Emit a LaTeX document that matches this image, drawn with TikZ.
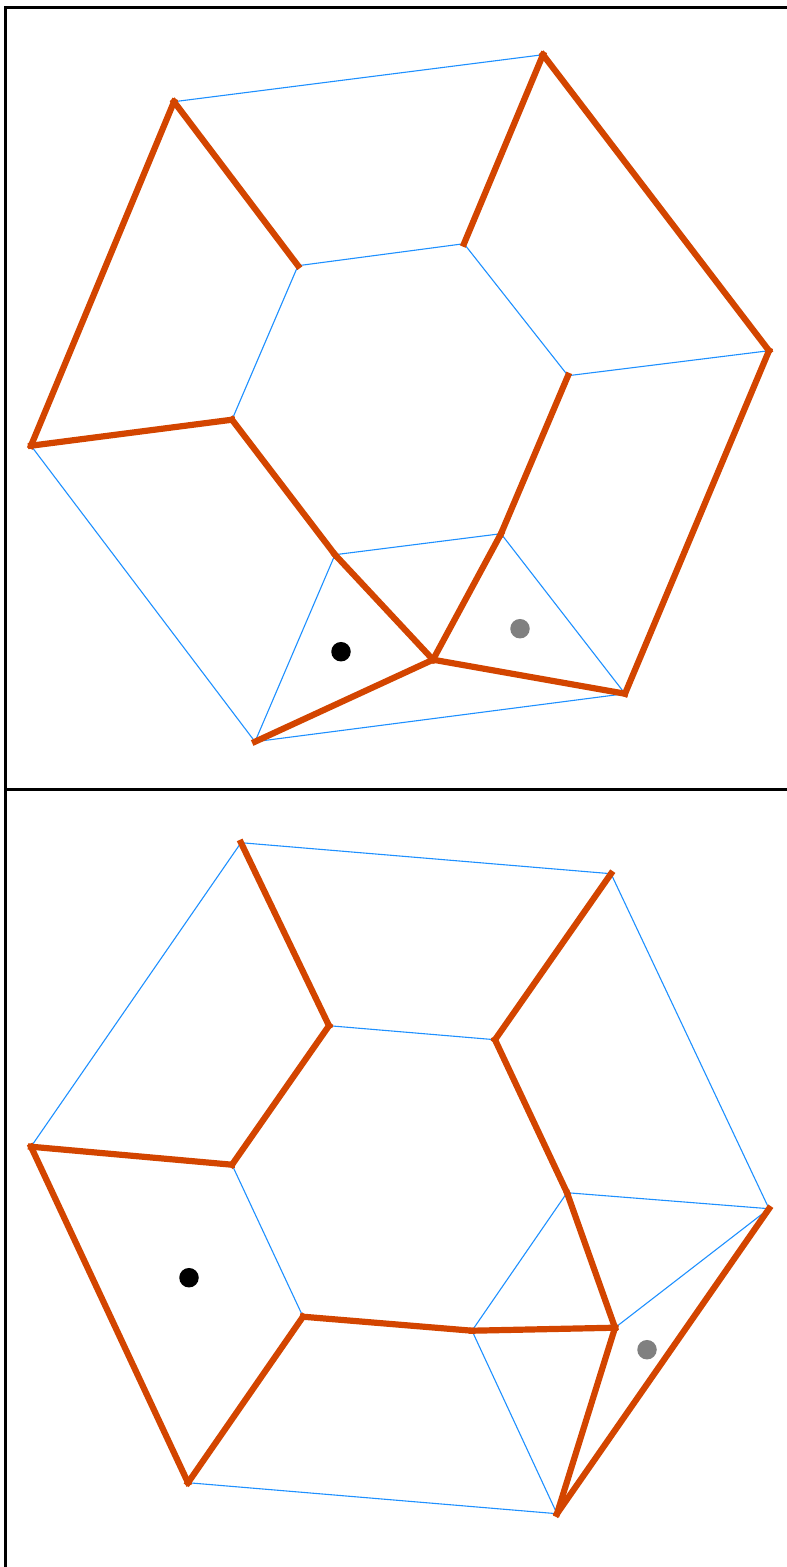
\documentclass[tikz,border=0pt]{standalone}

\tikzset{
  thinedge/.style={draw={rgb,255:red,30;green,144;blue,255},line width=1.1pt},
  thickedge/.style={draw={rgb,255:red,211;green,69;blue,0},line width=6.2pt,line cap=rect},
  framerule/.style={draw=black,line width=3pt},
  marker/.style={circle,inner sep=0pt,minimum size=19.5pt},
}

\begin{document}
\begin{tikzpicture}[x=1pt,y=-1pt]
  \useasboundingbox (0,0) rectangle (787,1567);
  \draw[framerule] (5,1567) -- (5,7) -- (787,7);
  \draw[framerule] (5,789) -- (787,789);

  \begin{scope}[yshift=-0.7pt]
  % upper panel
  \coordinate (ua) at (174,101);
  \coordinate (ub) at (543,54);
  \coordinate (uc) at (769,350);
  \coordinate (ud) at (625,693);
  \coordinate (ue) at (255,741);
  \coordinate (uf) at (31,445);
  \coordinate (ia) at (298,265);
  \coordinate (ib) at (464,243);
  \coordinate (ic) at (568,375);
  \coordinate (id) at (501,533);
  \coordinate (ie) at (335,554);
  \coordinate (if) at (232,419);
  \coordinate (um) at (433,659);
  \draw[thinedge] (ua) -- (ub);
  \draw[thinedge] (ia) -- (ib);
  \draw[thinedge] (ia) -- (if);
  \draw[thinedge] (ib) -- (ic);
  \draw[thinedge] (ic) -- (uc);
  \draw[thinedge] (id) -- (ud);
  \draw[thinedge] (id) -- (ie);
  \draw[thinedge] (ie) -- (ue);
  \draw[thinedge] (uf) -- (ue);
  \draw[thinedge] (ue) -- (ud);
  \draw[thickedge] (uf) -- (ua);
  \draw[thickedge] (ua) -- (ia);
  \draw[thickedge] (ub) -- (ib);
  \draw[thickedge] (ub) -- (uc);
  \draw[thickedge] (uc) -- (ud);
  \draw[thickedge] (ic) -- (id);
  \draw[thickedge] (uf) -- (if);
  \draw[thickedge] (if) -- (ie);
  \draw[thickedge] (ie) -- (um);
  \draw[thickedge] (id) -- (um);
  \draw[thickedge] (um) -- (ud);
  \draw[thickedge] (um) -- (ue);
  \node[marker,fill=black] (ublack) at (341,651) {};
  \node[marker,fill=gray] (ugray) at (520,628) {};

  % lower panel
  \coordinate (la) at (241,842);
  \coordinate (lb) at (611,873);
  \coordinate (lc) at (769,1208);
  \coordinate (ld) at (557,1513);
  \coordinate (le) at (188,1482);
  \coordinate (lf) at (31,1146);
  \coordinate (ja) at (329,1025);
  \coordinate (jb) at (495,1039);
  \coordinate (jc) at (567,1192);
  \coordinate (jd) at (615,1327);
  \coordinate (je) at (472,1330);
  \coordinate (jf) at (303,1316);
  \coordinate (jg) at (232,1164);
  \draw[thinedge] (la) -- (lb);
  \draw[thinedge] (la) -- (lf);
  \draw[thinedge] (lb) -- (lc);
  \draw[thinedge] (ja) -- (jb);
  \draw[thinedge] (jg) -- (jf);
  \draw[thinedge] (jc) -- (lc);
  \draw[thinedge] (jc) -- (je);
  \draw[thinedge] (jd) -- (lc);
  \draw[thinedge] (je) -- (ld);
  \draw[thinedge] (le) -- (ld);
  \draw[thickedge] (la) -- (ja);
  \draw[thickedge] (ja) -- (jg);
  \draw[thickedge] (jg) -- (lf);
  \draw[thickedge] (lf) -- (le);
  \draw[thickedge] (le) -- (jf);
  \draw[thickedge] (jf) -- (je);
  \draw[thickedge] (je) -- (jd);
  \draw[thickedge] (jc) -- (jd);
  \draw[thickedge] (jb) -- (jc);
  \draw[thickedge] (lb) -- (jb);
  \draw[thickedge] (jd) -- (ld);
  \draw[thickedge] (ld) -- (lc);
  \node[marker,fill=black] (lblack) at (189,1277) {};
  \node[marker,fill=gray] (lgray) at (647,1349) {};
  \end{scope}
\end{tikzpicture}
\end{document}
